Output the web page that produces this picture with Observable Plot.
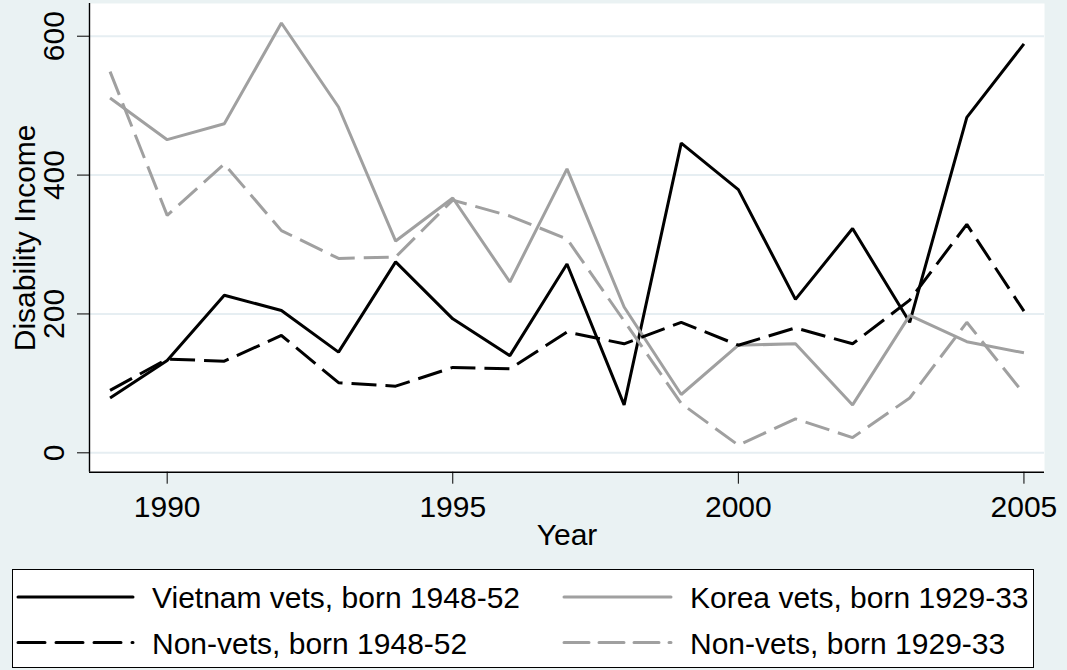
<!DOCTYPE html>
<html><head><meta charset="utf-8">
<script src="https://cdn.jsdelivr.net/npm/d3@7"></script>
<script src="https://cdn.jsdelivr.net/npm/@observablehq/plot@0.6"></script>
<style>
html,body{margin:0;padding:0;background:#eaf2f3;}
#wrap{position:relative;width:1067px;height:670px;overflow:hidden;font-family:"Liberation Sans",Arial,sans-serif;}
#wrap svg{display:block;}
#legend{position:absolute;left:12px;top:569px;width:1022px;height:99px;background:#fff;border:1.3px solid #000;box-sizing:border-box;}
</style></head><body><div id="wrap"></div>
<script>
// ---- data ----
const years = [1989,1990,1991,1992,1993,1994,1995,1996,1997,1998,1999,2000,2001,2002,2003,2004,2005];
const vietnamVets = [79,133,227,205,145,275,193,140,272,69,446,379,221,323,188,483,589];
const koreaVets   = [511,451,474,619,498,305,367,246,409,210,84,155,157,69,198,160,144];
const nonVets4852 = [90,135,132,169,101,96,123,121,174,157,188,155,180,157,220,329,204];
const nonVets2933 = [549,342,416,320,280,282,364,341,308,190,71,11,49,22,79,188,85];
const seriesNames = ["Vietnam vets, born 1948-52","Korea vets, born 1929-33","Non-vets, born 1948-52","Non-vets, born 1929-33"];
const xTicks = [1990,1995,2000,2005];
const yTicks = [0,200,400,600];
const xTitle = "Year";
const yTitle = "Disability Income";

const xDomain = [1988.64, 2005.36];
const yDomain = [-27.9, 647.1];
const GRAY = "#a0a0a0";
const FONT = "Liberation Sans, Arial, sans-serif";
const FS = 30;

const series = [
  {values: vietnamVets, stroke: "black", dash: null},
  {values: koreaVets, stroke: GRAY, dash: null},
  {values: nonVets4852, stroke: "black", dash: "25,9"},
  {values: nonVets2933, stroke: GRAY, dash: "25,9"}
];

const chart = Plot.plot({
  width: 1067, height: 560,
  marginLeft: 89, marginRight: 23, marginTop: 3, marginBottom: 88.3,
  style: {background: "transparent", fontFamily: FONT, fontSize: FS + "px", color: "black"},
  x: {domain: xDomain},
  y: {domain: yDomain},
  marks: [
    Plot.frame({fill: "white", stroke: "none"}),
    Plot.ruleY(yTicks, {stroke: "#e6eef2", strokeWidth: 2}),
    ...series.map(s => Plot.line(years, {
      x: d => d, y: (d, i) => s.values[i],
      stroke: s.stroke, strokeWidth: 3, strokeDasharray: s.dash,
      strokeLinejoin: "miter", strokeLinecap: "butt"
    })),
    Plot.ruleX([xDomain[0]], {stroke: "black", strokeWidth: 1.4}),
    Plot.ruleY([yDomain[0]], {stroke: "black", strokeWidth: 1.4}),
    Plot.axisX({ticks: xTicks, tickSize: 12, tickPadding: 11, tickFormat: "d", label: null, fontSize: FS}),
    Plot.axisY({ticks: yTicks, tickSize: 12, tickRotate: -90, tickPadding: 14, tickFormat: "d", label: null, fontSize: FS}),
    Plot.text([xTitle], {frameAnchor: "bottom", dy: 51, lineAnchor: "top", textAnchor: "middle", text: d => d, fontSize: FS}),
    Plot.text([yTitle], {frameAnchor: "left", dx: -64, rotate: -90, textAnchor: "middle", text: d => d, fontSize: FS})
  ]
});
const wrap = document.getElementById("wrap");
wrap.appendChild(chart);

// ---- legend below the chart ----
const legend = document.createElement("div");
legend.id = "legend";
wrap.appendChild(legend);
const lsvg = d3.select(legend).append("svg").attr("width", 1020).attr("height", 97)
  .style("position", "absolute").style("left", "0px").style("top", "0px");
const cols = [{lx: 5, len: 115, dash: "27,11", tx: 139}, {lx: 551, len: 107, dash: "25,10", tx: 677}];
const rows = [{ly: 27, ty: 37.5}, {ly: 72.5, ty: 83.5}];
series.forEach((s, i) => {
  const c = cols[i % 2], r = rows[Math.floor(i / 2)];
  lsvg.append("line").attr("x1", c.lx).attr("x2", c.lx + c.len).attr("y1", r.ly).attr("y2", r.ly)
    .attr("stroke", s.stroke).attr("stroke-width", 3).attr("stroke-linecap", "round")
    .attr("stroke-dasharray", s.dash ? c.dash : null);
  lsvg.append("text").attr("x", c.tx).attr("y", r.ty).attr("font-family", FONT).attr("font-size", FS)
    .attr("fill", "black").text(seriesNames[i]);
});
</script></body></html>
